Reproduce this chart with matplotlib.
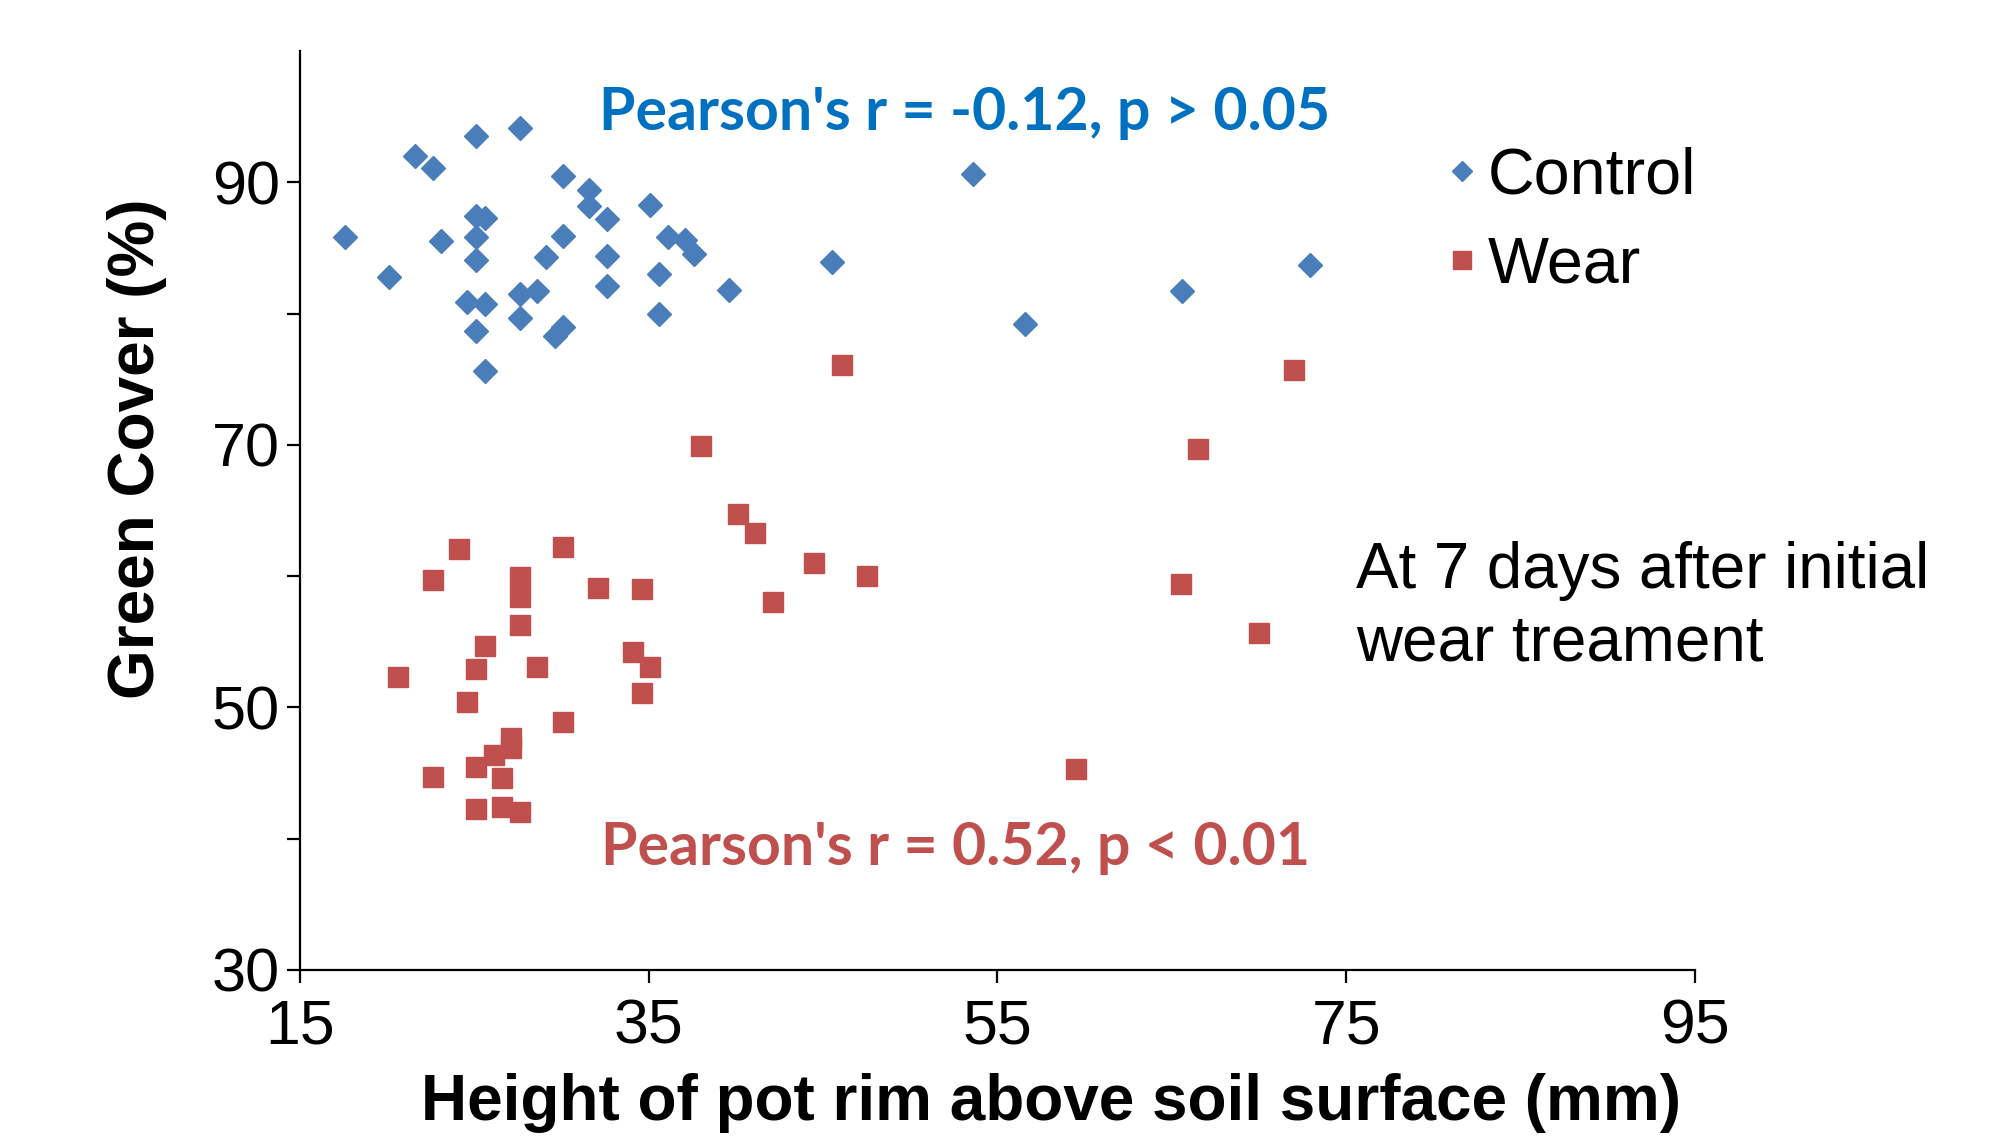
import matplotlib
matplotlib.use("Agg")
import matplotlib.pyplot as plt

# Control (diamonds)
control_x = [17.6, 20.1, 21.6, 22.6, 23.1, 25.1, 27.6, 25.1, 25.6, 25.1, 25.1,
             24.6, 25.6, 25.1, 25.6, 27.6, 28.6, 27.6, 29.1, 30.1, 30.1, 29.6,
             30.1, 31.6, 31.6, 32.6, 32.6, 32.6, 35.1, 35.6, 35.6, 36.1, 37.1,
             37.6, 39.6, 45.5, 53.6, 56.6, 65.6, 72.9]
control_y = [85.8, 82.8, 92.0, 91.1, 85.5, 93.5, 94.1, 87.4, 87.3, 85.8, 84.1,
             80.9, 80.7, 78.7, 75.6, 81.5, 81.7, 79.7, 84.3, 90.5, 85.9, 78.3,
             79.0, 89.4, 88.2, 87.2, 84.4, 82.1, 88.3, 83.0, 80.0, 85.8, 85.6,
             84.5, 81.8, 83.9, 90.6, 79.2, 81.7, 83.7]

# Wear (squares)
wear_x = [20.6, 22.6, 22.6, 24.1, 24.6, 25.1, 25.6, 25.1, 25.1, 26.1, 26.6,
          26.6, 27.1, 27.1, 27.6, 27.6, 27.6, 27.6, 28.6, 30.1, 30.1, 32.1,
          34.1, 34.6, 34.6, 35.1, 38.0, 40.1, 41.1, 42.1, 44.5, 46.1, 47.5,
          59.5, 65.5, 66.5, 70.0, 72.0]
wear_y = [52.3, 59.7, 44.7, 62.1, 50.4, 52.9, 54.7, 45.5, 42.3, 46.4, 44.6,
          42.4, 47.7, 46.9, 42.0, 59.9, 58.4, 56.3, 53.1, 62.2, 48.9, 59.1,
          54.2, 59.0, 51.1, 53.1, 69.9, 64.7, 63.3, 58.0, 61.0, 76.1, 60.0,
          45.3, 59.4, 69.7, 55.7, 75.7]

x_ticks = [15, 35, 55, 75, 95]
y_ticks = [30, 50, 70, 90]
y_minor = [40, 60, 80]

plt.rcParams['font.family'] = ['Liberation Sans', 'DejaVu Sans']

fig = plt.figure(figsize=(20.1, 11.37), dpi=100)
ax = fig.add_axes([0.14925, 0.14688, 0.69403, 0.80827])

ax.plot(control_x, control_y, 'D', color='#4A7EBB', markersize=12.5, label='Control')
ax.plot(wear_x, wear_y, 's', color='#C0504D', markersize=15, label='Wear')

ax.set_xlim(15, 95)
ax.set_ylim(30, 100)
ax.set_xticks(x_ticks)
ax.set_yticks(y_ticks)
ax.set_yticks(y_minor, minor=True)
ax.spines['top'].set_visible(False)
ax.spines['right'].set_visible(False)
for s in ['left', 'bottom']:
    ax.spines[s].set_linewidth(1.6)
ax.tick_params(which='both', direction='out', length=9.5, width=1.6)
ax.tick_params(axis='x', labelsize=45, pad=10)
ax.tick_params(axis='y', labelsize=44, pad=5)

ax.set_xlabel('Height of pot rim above soil surface (mm)', fontsize=46,
              fontweight='bold')
ax.set_ylabel('Green Cover (%)', fontsize=46, fontweight='bold')
ax.xaxis.set_label_coords(0.538, -0.112)
ax.yaxis.set_label_coords(-0.095, 0.567)

fig.text(0.298, 0.9006, "Pearson's r = -0.12, p > 0.05", color='#0070C0',
         fontsize=42.5, fontweight='bold', family='Lato', va='center', ha='left')
fig.text(0.299, 0.254, "Pearson's r = 0.52, p < 0.01", color='#C0504D',
         fontsize=42.5, fontweight='bold', family='Lato', va='center', ha='left')

fig.text(0.6746, 1 - 541 / 1137, "At 7 days after initial\nwear treament",
         fontsize=45.8, va='top', ha='left', linespacing=1.26)

ax.legend(loc='upper left', bbox_to_anchor=(0.7185, 0.871),
          bbox_transform=fig.transFigure, frameon=False, fontsize=46.5,
          markerscale=0.85, handlelength=0.55, handletextpad=0.12,
          labelspacing=0.45, borderpad=0, borderaxespad=0)

fig.savefig('out.png', dpi=100)
